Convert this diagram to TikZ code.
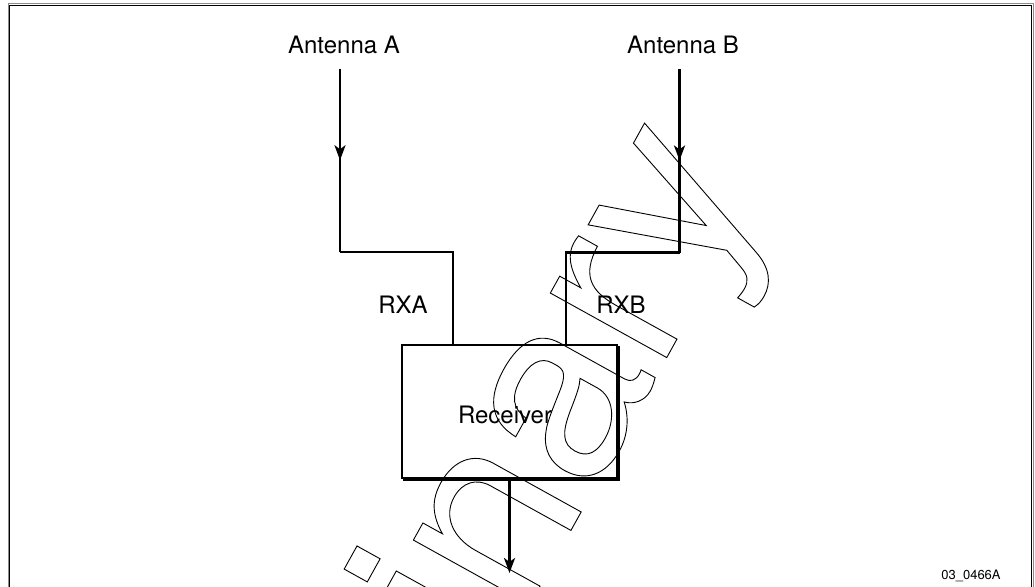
\documentclass[tikz,border=0pt]{standalone}
\usepackage{fontspec}
\setmainfont{TeX Gyre Heros}
\newfontfamily\wmfont{TeX Gyre Heros}
\usetikzlibrary{arrows.meta,decorations.markings,positioning}
\definecolor{framegray}{rgb}{0.55,0.55,0.55}
\newcommand{\outlinetext}[1]{\special{pdf:literal direct 1 Tr 0.9 w}#1\special{pdf:literal direct 0 Tr}}
\tikzset{
  rotulo/.style={
    font=\fontsize{24}{24}\selectfont,
    inner sep=0pt
  },
  codigo/.style={
    font=\fontsize{13}{13}\selectfont,
    inner sep=0pt
  },
  receptor/.style={
    draw,
    line width=2.5pt,
    minimum width=215pt,
    minimum height=133pt,
    inner sep=0pt,
    outer sep=0pt
  },
  sombra/.style={
    line width=2.5pt
  },
  linea/.style={
    line width=2.5pt
  },
  arrow/.style={
    -{Stealth[length=15pt,width=11pt,inset=4pt]}
  },
  midarrow/.style={
    postaction={decorate},
    decoration={markings,
      mark=at position 0.5 with {\arrow{Stealth[length=15pt,width=11pt,inset=4pt]}}}
  },
  marca/.style={
    rotate=61,
    anchor=base west,
    inner sep=0pt,
    font=\wmfont\fontsize{254}{254}\selectfont
  }
}
\begin{document}
\begin{tikzpicture}[x=1pt,y=-1pt]
\useasboundingbox (0,0) rectangle (1035,586);
\clip (0,0) rectangle (1035,586);
% marco
\draw[framegray,line width=1pt] (8,4) rectangle (1033,600);
\draw[line width=1.8pt] (9.5,5.5) rectangle (1031.5,600);
% marca de agua
\node[marca] (prelim) at (146,1297) {\outlinetext{Preliminary}};
% bloques y rotulos
\node[rotulo] (antA) at (344,45) {Antenna A};
\node[rotulo] (antB) at (683,45) {Antenna B};
\node[receptor] (rx) at (509.5,411.5) {};
\node[rotulo] (rxlbl) at (505,415) {Receiver};
\node[rotulo] (rxa) at (403,305) {RXA};
\node[rotulo] (rxb) at (621,305) {RXB};
\node[codigo] (fig) at (971,575.5) {03\_0466A};
\coordinate (inA) at (340,68.5);
\coordinate (inB) at (679.5,68.5);
\coordinate (codoA) at (340,252);
\coordinate (codoB) at (679.5,252.5);
\coordinate (jogA) at (453,252);
\coordinate (jogB) at (566,252.5);
\coordinate (out) at (509.5,573);
\draw[sombra] ([xshift=1.6pt,yshift=-1pt]rx.north east) -- ([xshift=1.6pt,yshift=-1.6pt]rx.south east) -- ([xshift=1pt,yshift=-1.6pt]rx.south west);
\draw[linea,midarrow] (inA) -- (codoA);
\draw[linea,midarrow] (inB) -- (codoB);
\draw[linea] (codoA) -- (jogA) -- (jogA |- rx.north);
\draw[linea] (codoB) -- (jogB) -- (jogB |- rx.north);
\draw[linea,arrow] (rx.south) -- (out);
\end{tikzpicture}
\end{document}
